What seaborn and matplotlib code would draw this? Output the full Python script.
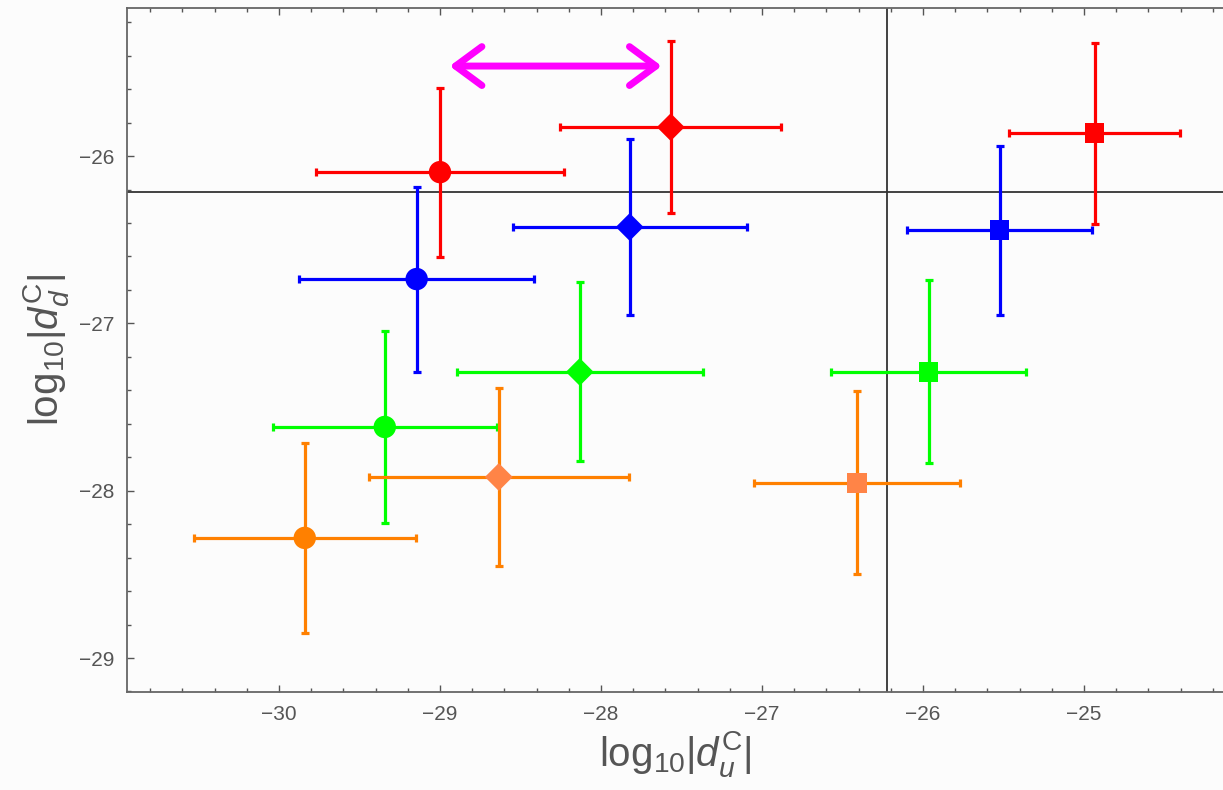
import numpy as np
import pandas as pd
import matplotlib
matplotlib.use("Agg")
import matplotlib.pyplot as plt
from matplotlib.ticker import MultipleLocator, FuncFormatter
import seaborn as sns

sns.set_theme(style="white")
plt.rcParams['font.family'] = ['Liberation Sans', 'DejaVu Sans']
plt.rcParams['mathtext.fontset'] = 'custom'
plt.rcParams['mathtext.rm'] = 'Liberation Sans'
plt.rcParams['mathtext.it'] = 'Liberation Sans:italic'

# ---- data ----
groups = ["red", "blue", "green", "orange"]
err_colors = {"red": "#FF0000", "blue": "#0000FF", "green": "#00FF00", "orange": "#FF8000"}

circle_x = [-29.00, -29.145, -29.343, -29.84]
circle_y = [-26.096, -26.735, -27.619, -28.282]
circle_xerr = [0.770, 0.730, 0.696, 0.689]
circle_yerr = [0.505, 0.553, 0.573, 0.570]

diamond_x = [-27.567, -27.822, -28.132, -28.635]
diamond_y = [-25.827, -26.424, -27.290, -27.918]
diamond_xerr = [0.686, 0.727, 0.764, 0.807]
diamond_yerr = [0.514, 0.526, 0.535, 0.529]

square_x = [-24.934, -25.524, -25.965, -26.41]
square_y = [-25.863, -26.442, -27.290, -27.953]
square_xerr = [0.531, 0.575, 0.606, 0.637]
square_yerr = [0.541, 0.505, 0.547, 0.547]

# face colours (orange diamond/square are a lighter coral)
circle_face = ["#FF0000", "#0000FF", "#00FF00", "#FF8000"]
diamond_face = ["#FF0000", "#0000FF", "#00FF00", "#FF8447"]
square_face = ["#FF0000", "#0000FF", "#00FF00", "#FF8447"]

vline_x = -26.225
hline_y = -26.215
arrow_x = [-28.94, -27.623]
arrow_y = -25.462

x_ticks = [-30, -29, -28, -27, -26, -25]
y_ticks = [-29, -28, -27, -26]

rows = []
for shape, xs, ys, xe, ye, fc in [
    ("circle", circle_x, circle_y, circle_xerr, circle_yerr, circle_face),
    ("diamond", diamond_x, diamond_y, diamond_xerr, diamond_yerr, diamond_face),
    ("square", square_x, square_y, square_xerr, square_yerr, square_face),
]:
    for g, x, y, a, b, f in zip(groups, xs, ys, xe, ye, fc):
        rows.append(dict(shape=shape, group=g, x=x, y=y, xerr=a, yerr=b, face=f))
df = pd.DataFrame(rows)

fig = plt.figure(figsize=(12.23, 7.90), dpi=100)
fig.patch.set_facecolor("#FCFCFC")
ax = fig.add_axes([127 / 1223, 1 - 692 / 790, 1 - 127 / 1223, (692 - 8) / 790])
ax.set_facecolor("#FCFCFC")

ax.set_xlim(-30.944, -24.137)
ax.set_ylim(-29.203, -25.115)

ax.axvline(vline_x, color="#333333", lw=1.3, zorder=1)
ax.axhline(hline_y, color="#333333", lw=1.3, zorder=1)

for _, r in df.iterrows():
    ax.errorbar(r.x, r.y, xerr=r.xerr, yerr=r.yerr, fmt="none",
                ecolor=err_colors[r.group], elinewidth=2.3, capsize=3, capthick=2.3, zorder=2)

palette = {f: f for f in df.face.unique()}
sns.scatterplot(data=df, x="x", y="y", hue="face", style="shape", size="shape",
                palette=palette,
                markers={"circle": "o", "diamond": "D", "square": "s"},
                sizes={"circle": 260, "diamond": 200, "square": 200},
                linewidth=0, legend=False, ax=ax, zorder=3)

ax.annotate("", xy=(arrow_x[0], arrow_y), xytext=(arrow_x[1], arrow_y),
            arrowprops=dict(arrowstyle="<->,head_length=0.95,head_width=0.7",
                            color="#FF00FF", lw=5, mutation_scale=20,
                            capstyle="round", joinstyle="round", shrinkA=0, shrinkB=0),
            zorder=4)

ax.set_xticks(x_ticks)
ax.set_yticks(y_ticks)
ax.xaxis.set_minor_locator(MultipleLocator(0.2))
ax.yaxis.set_minor_locator(MultipleLocator(0.2))
fmt = FuncFormatter(lambda v, p: "\u2212%d" % abs(v) if v < 0 else "%d" % v)
ax.xaxis.set_major_formatter(fmt)
ax.yaxis.set_major_formatter(fmt)

ax.tick_params(which="both", direction="in", top=True, right=False, bottom=True, left=True,
               color="#555555", width=1.0, labelcolor="#555555", labelsize=15)
ax.tick_params(which="major", length=5, pad=9)
ax.tick_params(which="minor", length=3)
ax.tick_params(axis="x", which="both", labeltop=False)

for s in ["left", "bottom", "top"]:
    ax.spines[s].set_color("#666666")
    ax.spines[s].set_linewidth(1.3)
ax.spines["right"].set_visible(False)

ax.set_xlabel(r"$\mathrm{log}_{10}|d_u^{\mathrm{C}}|$", fontsize=29, color="#555555", labelpad=4)
ax.set_ylabel(r"$\mathrm{log}_{10}|d_d^{\mathrm{C}}|$", fontsize=29, color="#555555", labelpad=6)

fig.savefig("out.png", dpi=100, facecolor=fig.get_facecolor())
